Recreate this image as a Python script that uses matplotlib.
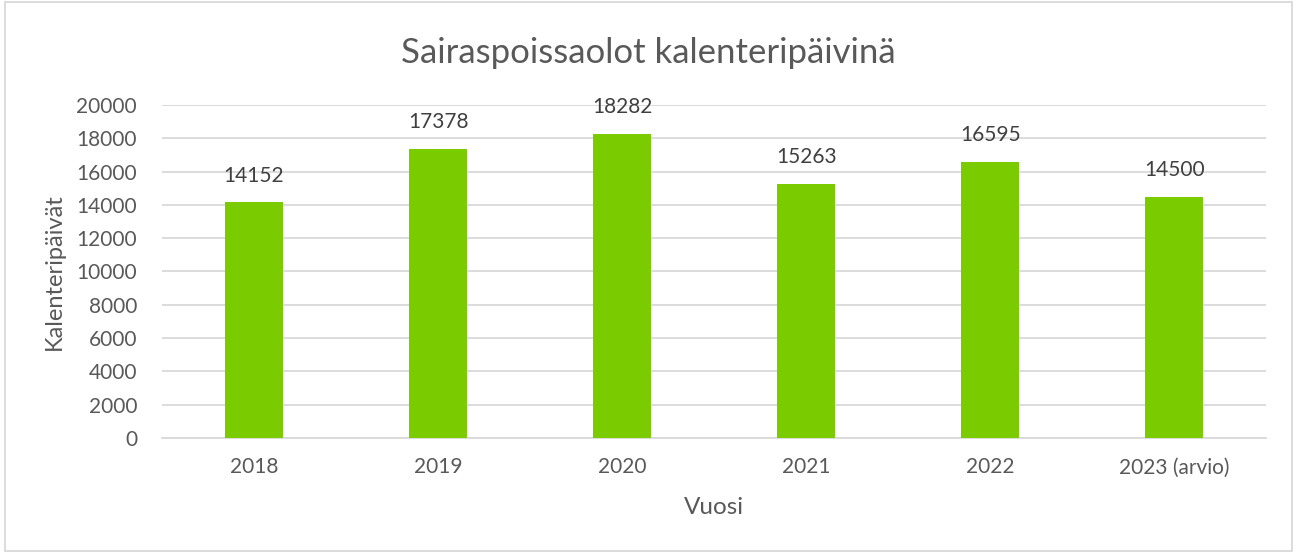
import matplotlib.pyplot as plt
from matplotlib.patches import Rectangle

plt.rcParams['font.family'] = ['Lato', 'DejaVu Sans']

years = ["2018", "2019", "2020", "2021", "2022", "2023 (arvio)"]
days = [14152, 17378, 18282, 15263, 16595, 14500]

text_col = '#595959'
bar_col = '#7ACC00'
grid_col = '#D9D9D9'

fig = plt.figure(figsize=(12.96, 5.54), dpi=100)
ax = fig.add_axes([0.125, 0.2094, 0.852, 0.6011])

x = range(len(years))
bars = ax.bar(x, days, width=0.315, color=bar_col, zorder=3)

for xi, v in zip(x, days):
    ax.annotate(str(v), (xi, v), xytext=(0, 12), textcoords='offset points',
                ha='center', va='bottom', fontsize=15, color='#404040')

ax.set_xlim(-0.5, len(years) - 0.5)
ax.set_ylim(0, 20000)
ax.set_yticks(range(0, 20001, 2000))
ax.set_xticks(list(x))
ax.set_xticklabels(years)
ax.tick_params(axis='both', length=0, labelsize=15, labelcolor=text_col)
ax.tick_params(axis='y', pad=18)
ax.tick_params(axis='x', pad=14)
ax.grid(axis='y', color=grid_col, linewidth=1.3, zorder=0)
for s in ['top', 'right', 'left']:
    ax.spines[s].set_visible(False)
ax.spines['bottom'].set_color(grid_col)
ax.spines['bottom'].set_linewidth(1.3)

ax.set_xlabel("Vuosi", fontsize=17.5, color=text_col, labelpad=14)
ax.set_ylabel("Kalenteripäivät", fontsize=17, color=text_col, labelpad=8)
fig.text(0.5, 0.905, "Sairaspoissaolot kalenteripäivinä", ha='center', va='center',
         fontsize=25, color=text_col)

fig.patches.append(Rectangle((0.004, 0.006), 0.993, 0.99, transform=fig.transFigure,
                             fill=False, edgecolor='#D9D9D9', linewidth=1.3))

fig.savefig('out.png', dpi=100)
